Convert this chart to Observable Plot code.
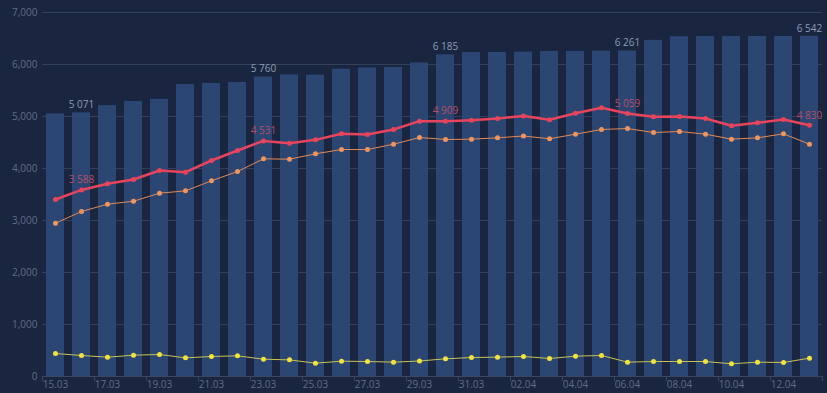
<!DOCTYPE html>
<html><head><meta charset="utf-8">
<script src="https://cdn.jsdelivr.net/npm/d3@7"></script>
<script src="https://cdn.jsdelivr.net/npm/@observablehq/plot@0.6"></script>
<style>html,body{margin:0;padding:0;background:#1a2540;overflow:hidden;}</style>
</head><body><div id="chart"></div>
<script>
const dates = ["15.03","16.03","17.03","18.03","19.03","20.03","21.03","22.03","23.03","24.03","25.03","26.03","27.03","28.03","29.03","30.03","31.03","01.04","02.04","03.04","04.04","05.04","06.04","07.04","08.04","09.04","10.04","11.04","12.04","13.04"];
const totalValues = [5050,5071,5210,5290,5330,5615,5635,5655,5760,5800,5795,5910,5935,5945,6030,6185,6230,6232,6238,6250,6252,6256,6261,6465,6535,6538,6538,6540,6540,6542];
const redValues = [3404,3588,3705,3788,3962,3929,4154,4346,4531,4487,4551,4667,4654,4750,4910,4909,4930,4962,5010,4936,5064,5167,5059,4994,5000,4962,4821,4878,4942,4830];
const orangeValues = [2949,3173,3314,3371,3525,3570,3763,3942,4186,4179,4282,4365,4365,4467,4596,4558,4564,4590,4625,4571,4660,4750,4769,4692,4712,4660,4564,4590,4667,4467];
const yellowValues = [442,404,371,410,423,359,385,397,333,320,256,295,288,276,298,340,365,372,385,346,391,404,276,288,288,288,244,276,269,353];
const labelledDates = ["16.03","23.03","30.03","06.04","13.04"];
const yTicks = [0,1000,2000,3000,4000,5000,6000,7000];

const rows = dates.map((d,i)=>({date:d,total:totalValues[i],red:redValues[i],orange:orangeValues[i],yellow:yellowValues[i]}));
const labelRows = rows.filter(r=>labelledDates.includes(r.date));
const evenDates = dates.filter((d,i)=>i%2===0);
const fmt = v => d3.format(",d")(v).replace(/,/g," ");
const yFmt = d3.format(",d");

const chart = Plot.plot({
  width:827, height:393,
  marginLeft:42, marginRight:5, marginTop:12, marginBottom:17,
  style:{background:"#1a2540", color:"#6b7890", fontFamily:"'Open Sans', sans-serif", fontSize:"10px", overflow:"visible"},
  x:{type:"band", domain:dates, paddingInner:0.3, paddingOuter:0.15, label:null},
  y:{domain:[0,7000], label:null},
  marks:[
    Plot.gridY(yTicks.filter(t=>t>0), {stroke:"#33405a", strokeOpacity:1}),
    Plot.barY(rows, {x:"date", y:"total", fill:"#2b4672"}),
    Plot.ruleY([0], {stroke:"#3a475f"}),
    Plot.axisY({ticks:yTicks, tickSize:0, tickPadding:5, tickFormat:yFmt, label:null, fill:"#606d85"}),
    Plot.axisX({ticks:evenDates, tickSize:0, tickPadding:4, label:null, fill:"#606d85"}),
    Plot.axisX({ticks:evenDates, tickSize:5, tickFormat:()=>"", dx:-13, label:null, stroke:"#3a475f"}),
    Plot.axisX({ticks:[dates[dates.length-1]], tickSize:5, tickFormat:()=>"", dx:13, label:null, stroke:"#3a475f"}),
    Plot.line(rows, {x:"date", y:"orange", stroke:"#e58a55", strokeWidth:1}),
    Plot.dot(rows, {x:"date", y:"orange", fill:"#f0955f", r:2.5}),
    Plot.line(rows, {x:"date", y:"red", stroke:"#e8445c", strokeWidth:2.5}),
    Plot.dot(rows, {x:"date", y:"red", fill:"#e8445c", r:2.5}),
    Plot.line(rows, {x:"date", y:"yellow", stroke:"#c9c35a", strokeWidth:1}),
    Plot.dot(rows, {x:"date", y:"yellow", fill:"#f2e33c", r:2.5}),
    Plot.text(labelRows, {x:"date", y:"total", text:d=>fmt(d.total), dy:-8, fill:"#8e9db6"}),
    Plot.text(labelRows, {x:"date", y:"red", text:d=>fmt(d.red), dy:-10, fill:"#b84f68"})
  ]
});
document.getElementById("chart").appendChild(chart);
</script>
</body></html>
